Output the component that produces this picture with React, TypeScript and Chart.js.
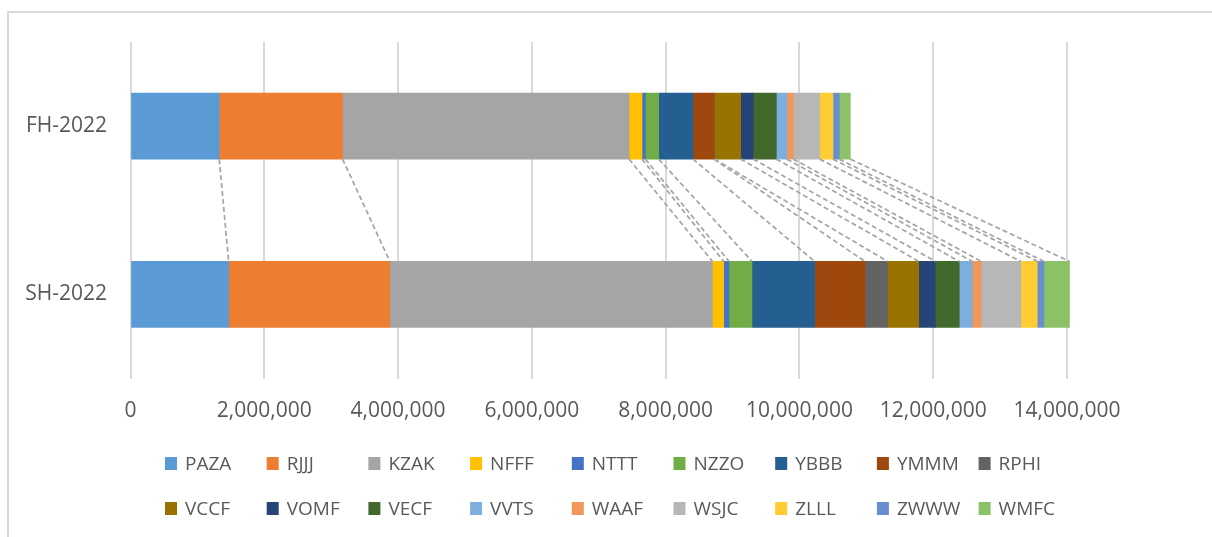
import React, { useEffect, useRef } from "react";
import { Chart, registerables } from "chart.js";

Chart.register(...registerables);

const categories = ["FH-2022", "SH-2022"];

const seriesNames = [
  "PAZA", "RJJJ", "KZAK", "NFFF", "NTTT", "NZZO", "YBBB", "YMMM", "RPHI",
  "VCCF", "VOMF", "VECF", "VVTS", "WAAF", "WSJC", "ZLLL", "ZWWW", "WMFC",
];

const fhValues = [
  1327000, 1843000, 4283000, 194000, 51000, 198000, 513000, 314000, 10000,
  388000, 190000, 344000, 158000, 96000, 393000, 199000, 95000, 165000,
];

const shValues = [
  1467000, 2410000, 4822000, 169000, 79000, 344000, 937000, 751000, 339000,
  464000, 249000, 358000, 195000, 134000, 592000, 245000, 98000, 384000,
];

const seriesColors = [
  "#5B9BD5", "#ED7D31", "#A5A5A5", "#FFC000", "#4472C4", "#70AD47", "#255E91", "#9E480E", "#636363",
  "#997300", "#264478", "#43682B", "#7CAFDD", "#F1975A", "#B7B7B7", "#FFCD33", "#698ED0", "#8CC168",
];

const xMin = 0;
const xMax = 14000000;
const xStep = 2000000;

const FONT = "'Open Sans', 'Noto Sans', sans-serif";
const TEXT_COLOR = "#595959";

const seriesLinesPlugin = {
  id: "seriesLines",
  afterDatasetsDraw(chart: any) {
    const ctx = chart.ctx;
    ctx.save();
    ctx.strokeStyle = "#a6a6a6";
    ctx.lineWidth = 1.75;
    ctx.setLineDash([5, 3]);
    chart.data.datasets.forEach((_ds: any, i: number) => {
      const meta = chart.getDatasetMeta(i);
      const a: any = meta.data[0];
      const b: any = meta.data[1];
      if (!a || !b) return;
      ctx.beginPath();
      ctx.moveTo(a.x, a.y + a.height / 2);
      ctx.lineTo(b.x, b.y - b.height / 2);
      ctx.stroke();
    });
    ctx.restore();
  },
};

const gridLegendPlugin = {
  id: "gridLegend",
  afterDraw(chart: any) {
    const ctx = chart.ctx;
    const cols = 9;
    const pitch = 101.7;
    const startX = 165;
    const rowY = [463.5, 508.5];
    ctx.save();
    ctx.font = `19px ${FONT}`;
    ctx.textBaseline = "middle";
    ctx.textAlign = "left";
    chart.data.datasets.forEach((ds: any, i: number) => {
      const col = i % cols;
      const row = Math.floor(i / cols);
      const x = startX + col * pitch;
      const y = rowY[row];
      ctx.fillStyle = ds.backgroundColor;
      ctx.fillRect(x, y - 6.5, 12, 13);
      ctx.fillStyle = TEXT_COLOR;
      ctx.fillText(ds.label, x + 20, y + 1);
    });
    ctx.restore();
  },
};

export default function App() {
  const canvasRef = useRef<HTMLCanvasElement | null>(null);

  useEffect(() => {
    if (!canvasRef.current) return;
    const datasets = seriesNames.map((name, i) => ({
      label: name,
      data: [fhValues[i], shValues[i]],
      backgroundColor: seriesColors[i],
      borderWidth: 0,
      barThickness: 66,
      clip: false as any,
    }));

    const chart = new Chart(canvasRef.current, {
      type: "bar",
      data: { labels: categories, datasets },
      options: {
        indexAxis: "y",
        responsive: false,
        animation: false,
        devicePixelRatio: 1,
        layout: { padding: { top: 42, left: 0, right: 145, bottom: 108.5 } },
        plugins: {
          legend: { display: false },
          tooltip: { enabled: false },
          title: { display: false },
        },
        scales: {
          x: {
            stacked: true,
            min: xMin,
            max: xMax,
            grid: { color: "#d9d9d9", lineWidth: 2, drawTicks: false },
            border: { display: false },
            ticks: {
              stepSize: xStep,
              padding: 20,
              color: TEXT_COLOR,
              font: { family: FONT, size: 21 },
              callback: (v: any) => Number(v).toLocaleString("en-US"),
            },
            afterFit: (scale: any) => {
              scale.height = 50;
            },
          },
          y: {
            stacked: true,
            grid: { display: false, drawTicks: false },
            border: { display: false },
            ticks: {
              padding: 23.5,
              color: TEXT_COLOR,
              font: { family: FONT, size: 21 },
            },
            afterFit: (scale: any) => {
              scale.width = 130.5;
            },
          },
        },
      },
      plugins: [seriesLinesPlugin, gridLegendPlugin],
    });
    return () => chart.destroy();
  }, []);

  return (
    <div
      style={{
        position: "fixed",
        left: 0,
        top: 0,
        width: 1212,
        height: 537,
        overflow: "hidden",
        background: "#ffffff",
      }}
    >
      <div
        style={{
          position: "absolute",
          left: 7,
          top: 11,
          width: 1400,
          height: 800,
          border: "2px solid #d9d9d9",
          boxSizing: "border-box",
        }}
      />
      <canvas
        ref={canvasRef}
        width={1212}
        height={537}
        style={{ position: "absolute", left: 0, top: 0, display: "block" }}
      />
    </div>
  );
}
